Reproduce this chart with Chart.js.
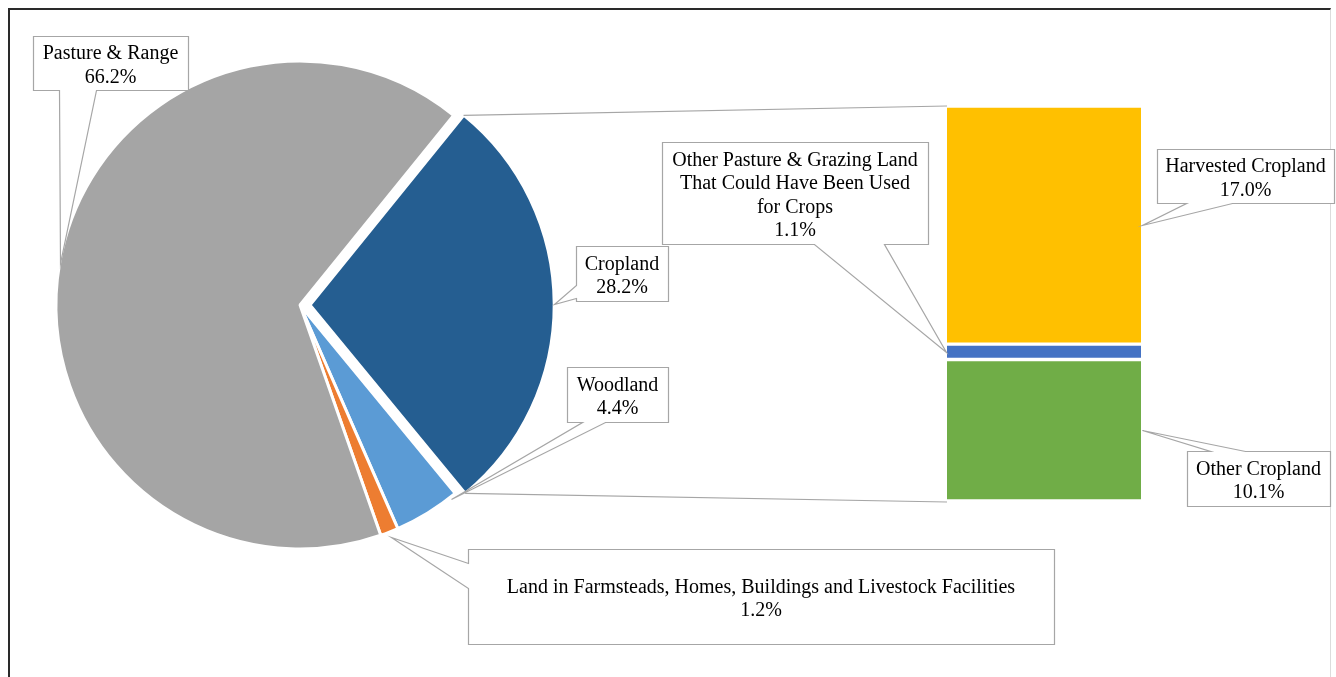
<!DOCTYPE html>
<html><head><meta charset="utf-8">
<title>Land Use Pie of Bar</title>
<script src="https://cdn.jsdelivr.net/npm/chart.js@4"></script>
<style>
html, body { margin: 0; padding: 0; background: #fff; width: 1336px; height: 677px; overflow: hidden; }
.frame { position: absolute; left: 8px; top: 8px; width: 1320px; height: 720px; border-top: 2px solid #2a2a2a; border-left: 2px solid #2a2a2a; border-right: 1px solid #dcdcdc; }
canvas { position: absolute; }
#pie { left: 40px; top: 45px; }
#bar { left: 947px; top: 106px; }
#overlay { left: 0; top: 0; pointer-events: none; }
.label { position: absolute; box-sizing: border-box; padding-top: 3px; display: flex; align-items: center; justify-content: center; text-align: center; white-space: pre; font-family: 'Liberation Serif', 'Times New Roman', serif; font-size: 20px; line-height: 23.5px; color: #000; }
</style></head><body>
<div class="frame"></div>
<canvas id="pie" width="520" height="520"></canvas>
<canvas id="bar" width="194" height="395"></canvas>
<canvas id="overlay" width="1336" height="677"></canvas>
<div id="labels"></div>
<script>
// Pie: share of land (%)
const PIE_LABELS = ['Cropland', 'Woodland', 'Land in Farmsteads, Homes, Buildings and Livestock Facilities', 'Pasture & Range'];
const PIE_VALUES = [28.2, 4.4, 1.2, 66.2];
// Bar: breakdown of Cropland (bottom to top)
const BAR_LABELS = ['Other Cropland', 'Other Pasture & Grazing Land\nThat Could Have Been Used\nfor Crops', 'Harvested Cropland'];
const BAR_VALUES = [10.1, 1.1, 17.0];

const PIE_COLORS = ['#255E91', '#5B9BD5', '#ED7D31', '#A5A5A5'];
const BAR_COLORS = ['#70AD47', '#4472C4', '#FFC000'];
const LINE_COLOR = '#a6a6a6';

const PIE_POS = { left: 40, top: 45 };
const BAR_POS = { left: 947, top: 106 };
const EXPLODE = 10; // px the Cropland slice is pulled out

// callout boxes: [x, y, w, h], pointer side, pointer base span on that side
const CALLOUTS = [
  { chart: 'pie', index: 3, box: [33, 36, 155, 54], side: 'bottom', base: [59, 96], frac: 0.5, extra: 0 },
  { chart: 'pie', index: 0, box: [576, 246, 92, 55], side: 'left', base: [285, 298], frac: 0.5, extra: 0 },
  { chart: 'pie', index: 1, box: [567, 367, 101, 55], side: 'bottom', base: [582, 605], frac: 0.1, extra: 2 },
  { chart: 'pie', index: 2, box: [468, 549, 586, 95], side: 'left', base: [563, 588], frac: 0.5, extra: 5 },
  { chart: 'bar', index: 1, box: [662, 142, 266, 102], side: 'bottom', base: [814, 884], edge: 'left' },
  { chart: 'bar', index: 2, box: [1157, 149, 177, 54], side: 'bottom', base: [1186, 1232], edge: 'right' },
  { chart: 'bar', index: 0, box: [1187, 451, 143, 55], side: 'top', base: [1210, 1245], edge: 'right' },
];

const pie = new Chart(document.getElementById('pie'), {
  type: 'pie',
  data: {
    labels: PIE_LABELS,
    datasets: [{
      data: PIE_VALUES,
      backgroundColor: PIE_COLORS,
      borderColor: '#fff',
      borderWidth: 3,
      offset: PIE_VALUES.map((v, i) => i === 0 ? EXPLODE * 4 : 0), // v4 draws offset/4
    }]
  },
  options: {
    responsive: false, animation: false,
    rotation: 39, radius: 244,
    layout: { padding: 0 },
    plugins: { legend: { display: false }, tooltip: { enabled: false } }
  }
});

const bar = new Chart(document.getElementById('bar'), {
  type: 'bar',
  data: {
    labels: ['Cropland'],
    datasets: BAR_VALUES.map((v, i) => ({
      label: BAR_LABELS[i],
      data: [v],
      backgroundColor: BAR_COLORS[i],
      borderColor: '#fff',
      borderWidth: { top: 2, bottom: 2, left: 0, right: 0 },
      borderSkipped: false,
      barPercentage: 1,
      categoryPercentage: 1,
    }))
  },
  options: {
    responsive: false, animation: false,
    layout: { padding: 0 },
    plugins: { legend: { display: false }, tooltip: { enabled: false } },
    scales: {
      x: { stacked: true, display: false },
      y: { stacked: true, display: false, min: 0, max: PIE_VALUES[0] }
    }
  }
});

function arcPoint(index, frac, extra) {
  const el = pie.getDatasetMeta(0).data[index];
  const off = (el.options.offset || 0) / 4;
  const mid = (el.startAngle + el.endAngle) / 2;
  const a = el.startAngle + (el.endAngle - el.startAngle) * frac;
  const r = el.outerRadius + (extra || 0);
  return {
    x: PIE_POS.left + el.x + Math.cos(mid) * off + Math.cos(a) * r,
    y: PIE_POS.top + el.y + Math.sin(mid) * off + Math.sin(a) * r,
  };
}

function barPoint(index, edge) {
  const el = bar.getDatasetMeta(index).data[0];
  const x = edge === 'left' ? el.x - el.width / 2 - 1 : el.x + el.width / 2 + 1;
  return { x: BAR_POS.left + x, y: BAR_POS.top + (el.y + el.base) / 2 };
}

function calloutPath(ctx, c, tip) {
  const [x, y, w, h] = c.box;
  const [a, b] = c.base;
  const pts = [[x, y]];
  if (c.side === 'top') pts.push([a, y], [tip.x, tip.y], [b, y]);
  pts.push([x + w, y]);
  if (c.side === 'right') pts.push([x + w, a], [tip.x, tip.y], [x + w, b]);
  pts.push([x + w, y + h]);
  if (c.side === 'bottom') pts.push([b, y + h], [tip.x, tip.y], [a, y + h]);
  pts.push([x, y + h]);
  if (c.side === 'left') pts.push([x, b], [tip.x, tip.y], [x, a]);
  ctx.beginPath();
  pts.forEach((p, i) => {
    const px = Math.round(p[0]) + 0.5, py = Math.round(p[1]) + 0.5;
    if (i === 0) ctx.moveTo(px, py); else ctx.lineTo(px, py);
  });
  ctx.closePath();
}

function drawOverlay() {
  const ctx = document.getElementById('overlay').getContext('2d');
  ctx.strokeStyle = LINE_COLOR;
  ctx.lineWidth = 1.2;

  // connector lines from the exploded Cropland slice to the bar
  const topEl = bar.getDatasetMeta(BAR_VALUES.length - 1).data[0];
  const botEl = bar.getDatasetMeta(0).data[0];
  const s = arcPoint(0, 0, 0), e = arcPoint(0, 1, 0);
  ctx.beginPath();
  ctx.moveTo(s.x, s.y);
  ctx.lineTo(BAR_POS.left + topEl.x - topEl.width / 2, BAR_POS.top + topEl.y);
  ctx.moveTo(e.x, e.y);
  ctx.lineTo(BAR_POS.left + botEl.x - botEl.width / 2, BAR_POS.top + botEl.base + 1);
  ctx.stroke();

  const holder = document.getElementById('labels');
  for (const c of CALLOUTS) {
    const tip = c.chart === 'pie' ? arcPoint(c.index, c.frac, c.extra) : barPoint(c.index, c.edge);
    calloutPath(ctx, c, tip);
    ctx.fillStyle = '#fff';
    ctx.fill();
    ctx.stroke();

    const label = c.chart === 'pie' ? PIE_LABELS[c.index] : BAR_LABELS[c.index];
    const value = c.chart === 'pie' ? PIE_VALUES[c.index] : BAR_VALUES[c.index];
    const div = document.createElement('div');
    div.className = 'label';
    div.style.left = c.box[0] + 'px';
    div.style.top = c.box[1] + 'px';
    div.style.width = c.box[2] + 'px';
    div.style.height = c.box[3] + 'px';
    div.textContent = label + '\n' + value.toFixed(1) + '%';
    holder.appendChild(div);
  }
}

drawOverlay();
</script></body></html>
